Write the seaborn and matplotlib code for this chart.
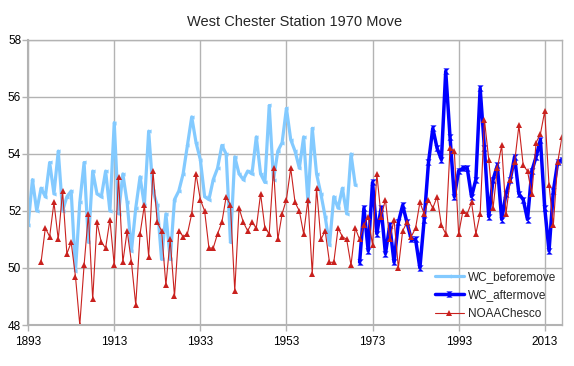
import matplotlib
matplotlib.use("Agg")
import matplotlib.pyplot as plt
import numpy as np
import pandas as pd
import seaborn as sns

sns.set_theme(style="white")
plt.rcParams['font.family'] = ['Liberation Sans', 'DejaVu Sans']

# annual mean temperatures
before_years = list(range(1893, 1970))
before_temp = [
    51.5, 53.1, 52.0, 52.8, 52.5, 53.7, 52.6, 54.1, 52.0, 52.5,
    52.7, 49.9, 52.3, 53.7, 50.9, 53.4, 52.6, 52.5, 53.4, 52.0,
    55.1, 51.9, 53.3, 52.3, 50.6, 52.1, 53.2, 52.2, 54.8, 52.7,
    52.2, 50.3, 51.9, 50.3, 52.4, 52.7, 53.3, 54.3, 55.3, 54.4,
    53.8, 52.5, 52.4, 53.1, 53.5, 54.3, 54.0, 50.9, 53.9, 53.3,
    53.1, 53.4, 53.3, 54.6, 53.3, 53.0, 55.7, 53.1, 54.1, 54.4,
    55.6, 54.5, 54.1, 53.5, 54.6, 52.3, 54.9, 53.3, 52.6, 51.8,
    50.8, 52.5, 52.1, 52.8, 51.9, 54.0, 52.9,
]

after_years = list(range(1970, 2018))
after_temp = [
    50.2, 52.1, 50.6, 53.0, 51.2, 52.1, 50.5, 51.5, 50.2, 51.6,
    52.2, 51.6, 51.0, 51.0, 50.0, 51.7, 53.7, 54.9, 54.2, 53.8,
    56.9, 54.6, 52.5, 53.4, 53.5, 53.5, 52.5, 53.1, 56.3, 54.2,
    51.8, 53.1, 53.6, 51.7, 52.6, 53.1, 53.9, 52.6, 52.4, 51.7,
    53.4, 53.9, 54.5, 52.1, 50.6, 52.7, 53.7, 53.8,
]

noaa_years = list(range(1896, 2018))
noaa_temp = [
    50.2, 51.4, 51.1, 52.3, 51.0, 52.7, 50.5, 50.9, 49.7, 48.0,
    50.1, 51.9, 48.9, 51.6, 50.9, 50.7, 51.7, 50.1, 53.2, 50.2,
    51.3, 50.2, 48.7, 51.2, 52.2, 50.4, 53.4, 51.6, 51.3, 49.4,
    51.0, 49.0, 51.3, 51.1, 51.2, 51.9, 53.3, 52.4, 52.0, 50.7,
    50.7, 51.2, 51.6, 52.5, 52.2, 49.2, 52.1, 51.6, 51.3, 51.6,
    51.4, 52.6, 51.4, 51.2, 53.5, 51.0, 51.9, 52.4, 53.5, 52.3,
    52.0, 51.2, 52.4, 49.8, 52.8, 51.0, 51.3, 50.2, 50.2, 51.4,
    51.1, 51.0, 50.1, 51.4, 51.0, 51.5, 51.8, 50.8, 53.3, 51.8,
    52.4, 51.0, 51.7, 50.0, 51.3, 51.6, 51.1, 51.4, 52.3, 51.9,
    52.4, 52.1, 52.5, 51.5, 51.2, 54.2, 54.1, 51.2, 52.0, 51.9,
    52.3, 51.2, 51.9, 55.2, 53.8, 52.1, 53.5, 54.3, 51.9, 53.1,
    53.7, 55.0, 53.6, 53.4, 52.6, 54.4, 54.7, 55.5, 52.9, 51.5,
    53.7, 54.6,
]

x_ticks = list(range(1893, 2014, 20))
y_ticks = [48, 50, 52, 54, 56, 58]

grid_col = '#b3b3b3'
hourglass = [(-1, 1), (1, 1), (-1, -1), (1, -1), (-1, 1)]

fig, ax = plt.subplots(figsize=(5.74, 3.66), dpi=100)
fig.subplots_adjust(left=0.049, right=0.979, top=0.891, bottom=0.112)

ax.set_axisbelow(True)
ax.grid(True, color=grid_col, linewidth=1.0)

sns.lineplot(x=before_years, y=before_temp, ax=ax, color='#83caff',
             linewidth=2.3, marker='<', markersize=3, markeredgewidth=0,
             label='WC_beforemove')
sns.lineplot(x=after_years, y=after_temp, ax=ax, color='#0000ff',
             linewidth=2.5, marker=hourglass, markersize=4.5, markeredgewidth=0,
             label='WC_aftermove')
sns.lineplot(x=noaa_years, y=noaa_temp, ax=ax, color='#c9211e',
             linewidth=0.8, marker='^', markersize=4, markeredgewidth=0,
             label='NOAAChesco')

ax.set_xlim(1893, 2017)
ax.set_ylim(48, 58)
ax.set_xticks(x_ticks)
ax.set_yticks(y_ticks)
ax.set_xlabel('')
ax.set_ylabel('')
ax.tick_params(axis='both', labelsize=8.5, colors='black', length=4,
               width=1, color=grid_col, direction='out')
ax.tick_params(axis='x', pad=4)
ax.tick_params(axis='y', pad=1)
ax.tick_params(bottom=True, left=True)
for sp in ax.spines.values():
    sp.set_color(grid_col)
    sp.set_linewidth(1.0)
ax.spines['left'].set_linewidth(1.5)
ax.spines['bottom'].set_linewidth(1.5)

ax.set_title('West Chester Station 1970 Move', fontsize=10.5, pad=10)

ax.legend(loc='lower right', bbox_to_anchor=(1.0, 0.0), frameon=False,
          fontsize=8.5, handlelength=2.5, handletextpad=0.35,
          labelspacing=0.55, borderaxespad=0.05)

fig.savefig('out.png', dpi=100)
